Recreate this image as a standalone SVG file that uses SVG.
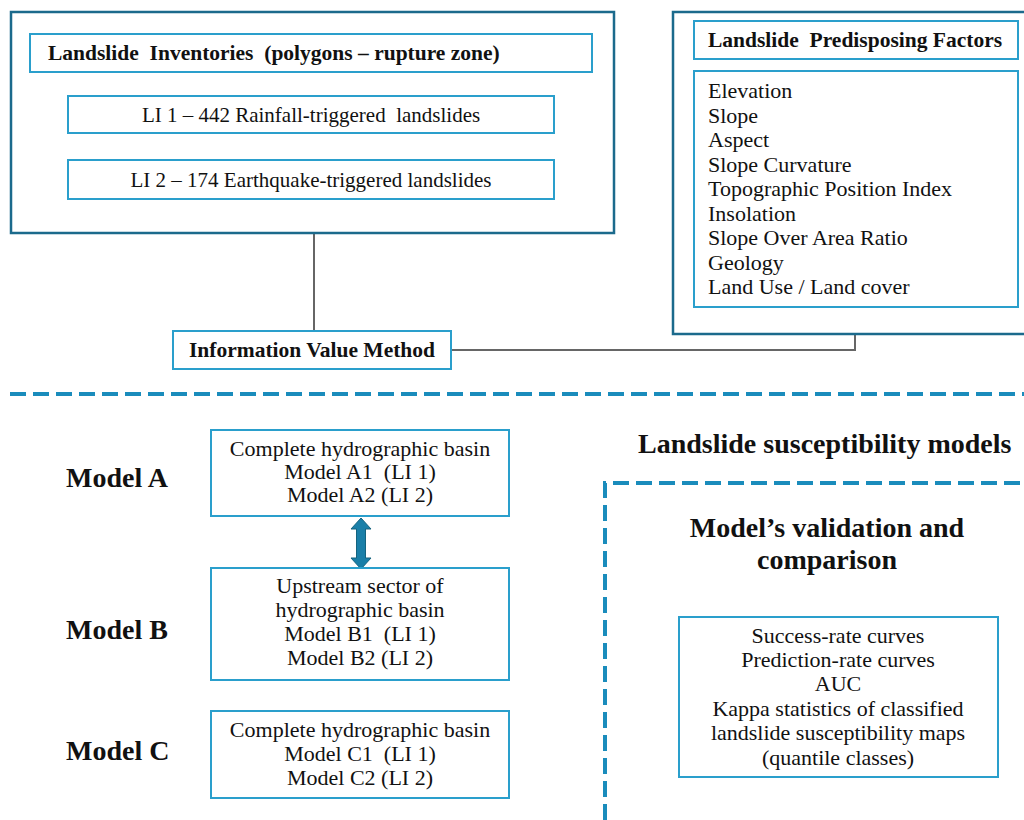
<svg xmlns="http://www.w3.org/2000/svg" width="1024" height="820" viewBox="0 0 1024 820">
<style>
.outer{fill:#fff;stroke:#1b6a8c;stroke-width:2.5}
.inner{fill:#fff;stroke:#2a9fcc;stroke-width:2}
.conn{fill:none;stroke:#666;stroke-width:2}
.dash{fill:none;stroke:#1a8cbc;stroke-width:4;stroke-dasharray:16 7}
text{font-family:"Liberation Serif","DejaVu Serif",serif;fill:#111;white-space:pre}
.t{font-size:22px}
.s{font-size:21px}
.b{font-size:21.5px;font-weight:bold}
.h{font-size:28px;font-weight:bold}
.c{text-anchor:middle}
</style>
<rect width="1024" height="820" fill="#fff"/>
<g id="connectors">
<path class="conn" d="M314 233 V331"/>
<path class="conn" d="M451 350 H855 V334"/>
<path class="dash" d="M10 394 H1024"/>
<path class="dash" d="M605 820 V483 H1024"/>
<path d="M361 518 L371 529 L365.5 529 L365.5 558 L371 558 L361 569 L351 558 L356.5 558 L356.5 529 L351 529 Z" fill="#1a7fa8" stroke="#14637f" stroke-width="1"/>
</g>
<g id="inventories">
<rect class="outer" x="11" y="12" width="603" height="221"/>
<rect class="inner" x="30" y="34" width="562" height="38"/>
<text class="b" x="48" y="60" xml:space="preserve">Landslide  Inventories  (polygons – rupture zone)</text>
</g>
<g id="li1">
<rect class="inner" x="68" y="96" width="486" height="37"/>
<text class="s c" x="311" y="122" xml:space="preserve">LI 1 – 442 Rainfall-triggered  landslides</text>
</g>
<g id="li2">
<rect class="inner" x="68" y="160" width="486" height="39"/>
<text class="s c" x="311" y="187">LI 2 – 174 Earthquake-triggered landslides</text>
</g>
<g id="factors">
<rect class="outer" x="673" y="12" width="360" height="322"/>
<rect class="inner" x="694" y="21" width="324" height="38"/>
<text class="b" x="708" y="47" xml:space="preserve">Landslide  Predisposing Factors</text>
<rect class="inner" x="694" y="71" width="324" height="236"/>
<text class="t" x="708" y="98">Elevation</text>
<text class="t" x="708" y="122.5">Slope</text>
<text class="t" x="708" y="147">Aspect</text>
<text class="t" x="708" y="171.5">Slope Curvature</text>
<text class="t" x="708" y="196">Topographic Position Index</text>
<text class="t" x="708" y="220.5">Insolation</text>
<text class="t" x="708" y="245">Slope Over Area Ratio</text>
<text class="t" x="708" y="269.5">Geology</text>
<text class="t" x="708" y="294">Land Use / Land cover</text>
</g>
<g id="ivm">
<rect class="inner" x="173" y="331" width="278" height="38"/>
<text class="b c" x="312" y="357">Information Value Method</text>
</g>
<g id="lsm-title">
<text class="h" x="638" y="453">Landslide susceptibility models</text>
</g>
<g id="modelA">
<text class="h" x="66" y="487">Model A</text>
<rect class="inner" x="211" y="430" width="298" height="86"/>
<text class="t c" x="360" y="456">Complete hydrographic basin</text>
<text class="t c" x="360" y="479" xml:space="preserve">Model A1  (LI 1)</text>
<text class="t c" x="360" y="502">Model A2 (LI 2)</text>
</g>
<g id="modelB">
<text class="h" x="66" y="639">Model B</text>
<rect class="inner" x="211" y="568" width="298" height="112"/>
<text class="t c" x="360" y="593">Upstream sector of</text>
<text class="t c" x="360" y="617">hydrographic basin</text>
<text class="t c" x="360" y="641" xml:space="preserve">Model B1  (LI 1)</text>
<text class="t c" x="360" y="665">Model B2 (LI 2)</text>
</g>
<g id="modelC">
<text class="h" x="66" y="760">Model C</text>
<rect class="inner" x="211" y="711" width="298" height="87"/>
<text class="t c" x="360" y="737">Complete hydrographic basin</text>
<text class="t c" x="360" y="761" xml:space="preserve">Model C1  (LI 1)</text>
<text class="t c" x="360" y="785">Model C2 (LI 2)</text>
</g>
<g id="validation">
<text class="h c" x="827" y="537">Model’s validation and</text>
<text class="h c" x="827" y="569">comparison</text>
<rect class="inner" x="679" y="617" width="319" height="160"/>
<text class="t c" x="838" y="643">Success-rate curves</text>
<text class="t c" x="838" y="667">Prediction-rate curves</text>
<text class="t c" x="838" y="691">AUC</text>
<text class="t c" x="838" y="716">Kappa statistics of classified</text>
<text class="t c" x="838" y="740">landslide susceptibility maps</text>
<text class="t c" x="838" y="765">(quantile classes)</text>
</g>
</svg>
